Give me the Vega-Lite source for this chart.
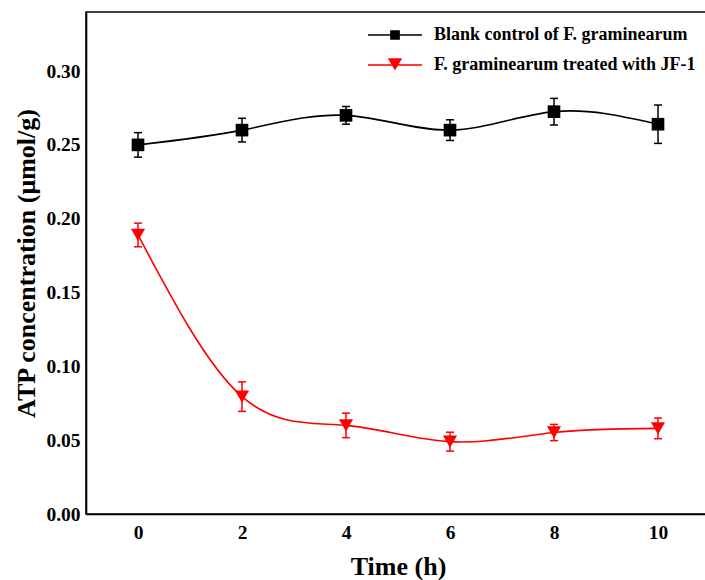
{
  "$schema": "https://vega.github.io/schema/vega-lite/v6.json",
  "width": 624,
  "height": 502,
  "autosize": {"type": "none"},
  "padding": {"left": 86, "top": 12, "right": 0, "bottom": 66},
  "background": "white",
  "config": {
    "view": {"stroke": "black", "strokeWidth": 1.5},
    "font": "Liberation Serif",
    "axis": {
      "domainColor": "black", "domainWidth": 1.6,
      "ticks": false, "tickSize": 0, "grid": false,
      "labelFont": "Liberation Serif", "labelFontWeight": "bold", "labelFontSize": 19.5, "labelColor": "black",
      "titleFont": "Liberation Serif", "titleFontWeight": "bold", "titleFontSize": 26, "titleColor": "black"
    },
    "legend": {
      "title": null,
      "orient": "top-right",
      "offset": 14,
      "padding": 0,
      "symbolSize": 324,
      "symbolOpacity": 1,
      "symbolStrokeWidth": 0,
      "labelFont": "Liberation Serif",
      "labelFontWeight": "bold",
      "labelFontSize": 18,
      "labelColor": "black",
      "labelLimit": 400,
      "labelOffset": 30,
      "rowPadding": 12
    }
  },
  "datasets": {
    "xt": [{"t": 0}, {"t": 2}, {"t": 4}, {"t": 6}, {"t": 8}, {"t": 10}],
    "yt": [{"v": 0.05}, {"v": 0.1}, {"v": 0.15}, {"v": 0.2}, {"v": 0.25}, {"v": 0.3}]
  },
  "data": {
    "values": [
      {"series": "Blank control of F. graminearum", "time": 0, "value": 0.250, "lo": 0.2417, "hi": 0.2583},
      {"series": "Blank control of F. graminearum", "time": 2, "value": 0.260, "lo": 0.252, "hi": 0.268},
      {"series": "Blank control of F. graminearum", "time": 4, "value": 0.270, "lo": 0.264, "hi": 0.276},
      {"series": "Blank control of F. graminearum", "time": 6, "value": 0.260, "lo": 0.253, "hi": 0.267},
      {"series": "Blank control of F. graminearum", "time": 8, "value": 0.2725, "lo": 0.2635, "hi": 0.2815},
      {"series": "Blank control of F. graminearum", "time": 10, "value": 0.264, "lo": 0.251, "hi": 0.277},
      {"series": "F. graminearum treated with JF-1", "time": 0, "value": 0.189, "lo": 0.181, "hi": 0.197},
      {"series": "F. graminearum treated with JF-1", "time": 2, "value": 0.0795, "lo": 0.0695, "hi": 0.0895},
      {"series": "F. graminearum treated with JF-1", "time": 4, "value": 0.060, "lo": 0.0517, "hi": 0.0683},
      {"series": "F. graminearum treated with JF-1", "time": 6, "value": 0.049, "lo": 0.0426, "hi": 0.0554},
      {"series": "F. graminearum treated with JF-1", "time": 8, "value": 0.0552, "lo": 0.0497, "hi": 0.0607},
      {"series": "F. graminearum treated with JF-1", "time": 10, "value": 0.058, "lo": 0.051, "hi": 0.065}
    ]
  },
  "encoding": {
    "x": {
      "field": "time", "type": "quantitative",
      "scale": {"domain": [-1, 11], "nice": false, "zero": false},
      "axis": {"values": [0, 2, 4, 6, 8, 10], "title": "Time (h)", "titlePadding": 12, "labelPadding": 9}
    },
    "y": {
      "field": "value", "type": "quantitative",
      "scale": {"domain": [0, 0.34], "nice": false},
      "axis": {"values": [0, 0.05, 0.1, 0.15, 0.2, 0.25, 0.3], "format": ".2f", "title": "ATP concentration (μmol/g)", "titlePadding": 6, "labelPadding": 6}
    }
  },
  "layer": [
    {
      "data": {"name": "xt"},
      "mark": {"type": "rule", "color": "black", "strokeWidth": 1.5},
      "encoding": {
        "x": {"field": "t", "type": "quantitative", "axis": {"title": "Time (h)"}},
        "y": {"datum": 0, "type": "quantitative"},
        "y2": {"datum": 0.0034}
      }
    },
    {
      "data": {"name": "yt"},
      "mark": {"type": "rule", "color": "black", "strokeWidth": 1.5},
      "encoding": {
        "y": {"field": "v", "type": "quantitative", "axis": {"title": "ATP concentration (μmol/g)"}},
        "x": {"datum": -1, "type": "quantitative"},
        "x2": {"datum": -0.904}
      }
    },
    {
      "transform": [{"filter": "datum.series === 'Blank control of F. graminearum'"}],
      "layer": [
        {"mark": {"type": "line", "interpolate": "natural", "strokeWidth": 1.6, "color": "#000000"}},
        {"mark": {"type": "rule", "strokeWidth": 1.5, "color": "#000000"}, "encoding": {"y": {"field": "lo", "type": "quantitative"}, "y2": {"field": "hi"}}},
        {"mark": {"type": "tick", "orient": "horizontal", "size": 8, "thickness": 1.5, "color": "#000000", "opacity": 1}, "encoding": {"y": {"field": "lo", "type": "quantitative"}}},
        {"mark": {"type": "tick", "orient": "horizontal", "size": 8, "thickness": 1.5, "color": "#000000", "opacity": 1}, "encoding": {"y": {"field": "hi", "type": "quantitative"}}},
        {"mark": {"type": "point", "shape": "square", "filled": true, "size": 160, "color": "#000000", "opacity": 1}}
      ]
    },
    {
      "transform": [{"filter": "datum.series === 'F. graminearum treated with JF-1'"}],
      "layer": [
        {"mark": {"type": "line", "interpolate": "natural", "strokeWidth": 1.6, "color": "#ff0000"}},
        {"mark": {"type": "rule", "strokeWidth": 1.5, "color": "#ff0000"}, "encoding": {"y": {"field": "lo", "type": "quantitative"}, "y2": {"field": "hi"}}},
        {"mark": {"type": "tick", "orient": "horizontal", "size": 8, "thickness": 1.5, "color": "#ff0000", "opacity": 1}, "encoding": {"y": {"field": "lo", "type": "quantitative"}}},
        {"mark": {"type": "tick", "orient": "horizontal", "size": 8, "thickness": 1.5, "color": "#ff0000", "opacity": 1}, "encoding": {"y": {"field": "hi", "type": "quantitative"}}},
        {"mark": {"type": "point", "shape": "triangle-down", "filled": true, "size": 200, "color": "#ff0000", "opacity": 1}}
      ]
    },
    {
      "transform": [{"filter": "false"}],
      "mark": {"type": "point", "filled": true, "opacity": 1},
      "encoding": {
        "color": {"field": "series", "type": "nominal", "scale": {"domain": ["Blank control of F. graminearum", "F. graminearum treated with JF-1"], "range": ["#000000", "#ff0000"]}},
        "shape": {"field": "series", "type": "nominal", "scale": {"domain": ["Blank control of F. graminearum", "F. graminearum treated with JF-1"], "range": ["M-3,-0.085H3V0.085H-3Z M-0.54,-0.54H0.54V0.54H-0.54Z", "M-3,-0.085H3V0.085H-3Z M-0.8,-0.75H0.8L0,0.62Z"]}}
      }
    }
  ]
}
